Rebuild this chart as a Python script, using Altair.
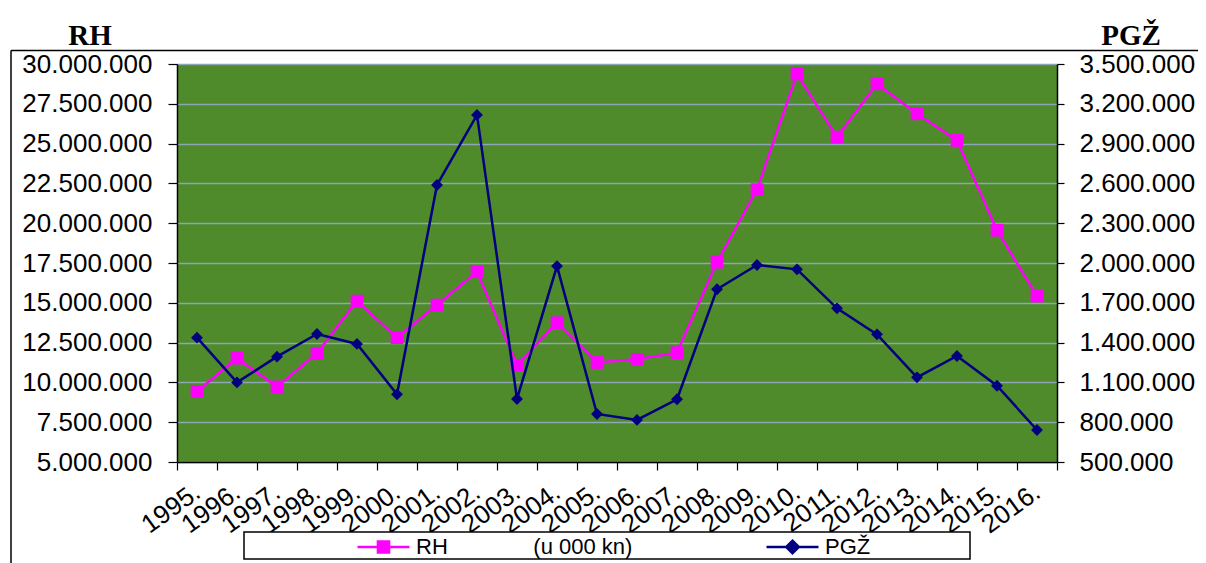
import altair as alt
import pandas as pd

years = [f"{y}." for y in range(1995, 2017)]
rh = [9430000, 11520000, 9720000, 11830000, 15110000, 12810000, 14860000, 16950000,
      11080000, 13750000, 11250000, 11450000, 11870000, 17550000, 22110000, 29370000,
      25410000, 28750000, 26870000, 25200000, 19560000, 15420000]
pgz = [1437000, 1100000, 1294000, 1465000, 1390000, 1010000, 2588000, 3116000,
       975000, 1977000, 862000, 817000, 973000, 1802000, 1985000, 1952000,
       1658000, 1462000, 1138000, 1299000, 1075000, 741000]
rh_ticks = [5000000 + 2500000 * i for i in range(11)]
pgz_ticks = [500000 + 300000 * i for i in range(11)]

rows = []
for y, a, b in zip(years, rh, pgz):
    rows.append({"year": y, "series": "RH", "value": a})
    rows.append({"year": y, "series": "PGŽ", "value": b})
df = pd.DataFrame(rows)

FONT = "Liberation Sans"
fmt = "replace(format(datum.value, ','), regexp(',', 'g'), '.')"

xenc = alt.X(
    "year:O", sort=years, title=None,
    scale=alt.Scale(type="band", paddingInner=0, paddingOuter=0),
    axis=alt.Axis(labelAngle=-36, labelAlign="right", labelBaseline="middle",
                  labelFontSize=26, labelFont=FONT, labelColor="black",
                  labelPadding=19, tickSize=8, tickBand="extent", tickColor="black",
                  domainColor="black", domainWidth=1.5, tickWidth=1.2, grid=False,
                  labelOverlap=False, labelLimit=200),
)

def series(name, color, shape, size, sym, values, domain, orient, title,
           titleX, legendX, labelExpr, tick_size, label_pad, grid):
    base = alt.Chart(df).transform_filter(alt.datum.series == name).encode(
        x=xenc,
        y=alt.Y("value:Q",
                scale=alt.Scale(domain=domain, nice=False, zero=False),
                axis=alt.Axis(orient=orient, values=values, labelExpr=fmt,
                              labelFontSize=26, labelFont=FONT, labelColor="black",
                              tickSize=tick_size, labelPadding=label_pad,
                              tickColor="black", domainColor="black",
                              domainWidth=1.5, tickWidth=1.2,
                              grid=grid, gridColor="#8ea6b8", gridWidth=1.5,
                              title=title, titleAngle=0, titleX=titleX, titleY=-20,
                              titleAlign="center", titleBaseline="alphabetic",
                              titleFont="Liberation Serif", titleFontWeight="bold",
                              titleFontSize=29, titleColor="black")),
        color=alt.Color("series:N",
                        scale=alt.Scale(domain=[name], range=[color]),
                        legend=alt.Legend(orient="none", legendX=legendX, legendY=466.5,
                                          title=None, padding=0, symbolType=sym,
                                          symbolSize=900, symbolStrokeWidth=2.5,
                                          symbolFillColor=color, symbolStrokeColor=color,
                                          labelFont=FONT, labelFontSize=22,
                                          labelColor="black", labelOffset=16,
                                          labelLimit=400, labelExpr=labelExpr)),
    )
    line = base.mark_line(strokeWidth=2.5)
    pts = base.mark_point(shape=shape, filled=True, size=size, opacity=1)
    return alt.layer(line, pts)

sq_path = "M-1.733,0H1.733M-0.37,-0.37H0.37V0.37H-0.37Z"
dia_path = "M-1.733,0H1.733M0,-0.42L0.42,0L0,0.42L-0.42,0Z"
nb = "\u00a0" * 14
rh_layer = series("RH", "#ff00ff", "square", 160, sq_path, rh_ticks,
                  [5000000, 30000000], "left", "RH", -87.5, 190,
                  f"datum.label + '{nb}(u 000 kn)'", 9, 16, True)
pg_layer = series("PGŽ", "#000080", "diamond", 140, dia_path, pgz_ticks,
                  [500000, 3500000], "right", "PGŽ", 73.5, 599,
                  "datum.label", 7, 15, False)

one = alt.Data(values=[{"a": 1}])
box = alt.Chart(one).mark_rect(fill="white", stroke="black", strokeWidth=1.5).encode(
    x=alt.value(67), x2=alt.value(793), y=alt.value(468), y2=alt.value(495))
top_rule = alt.Chart(one).mark_rule(color="black", strokeWidth=1.5).encode(
    x=alt.value(-166), x2=alt.value(1040), y=alt.value(-13.5))
left_rule = alt.Chart(one).mark_rule(color="black", strokeWidth=1.5).encode(
    x=alt.value(-166), y=alt.value(-13.5), y2=alt.value(520))

chart = alt.layer(rh_layer, pg_layer, box, top_rule, left_rule).resolve_scale(
    y="independent", color="independent"
).resolve_legend(color="independent").properties(
    width=880, height=398,
    autosize=alt.AutoSizeParams(type="none"),
    padding={"left": 169, "top": 56, "right": 141, "bottom": 101},
    background="white",
).configure_view(fill="#4f8a2b", stroke=None)

chart.save("out.html", embed_options={"renderer": "svg", "actions": False})
